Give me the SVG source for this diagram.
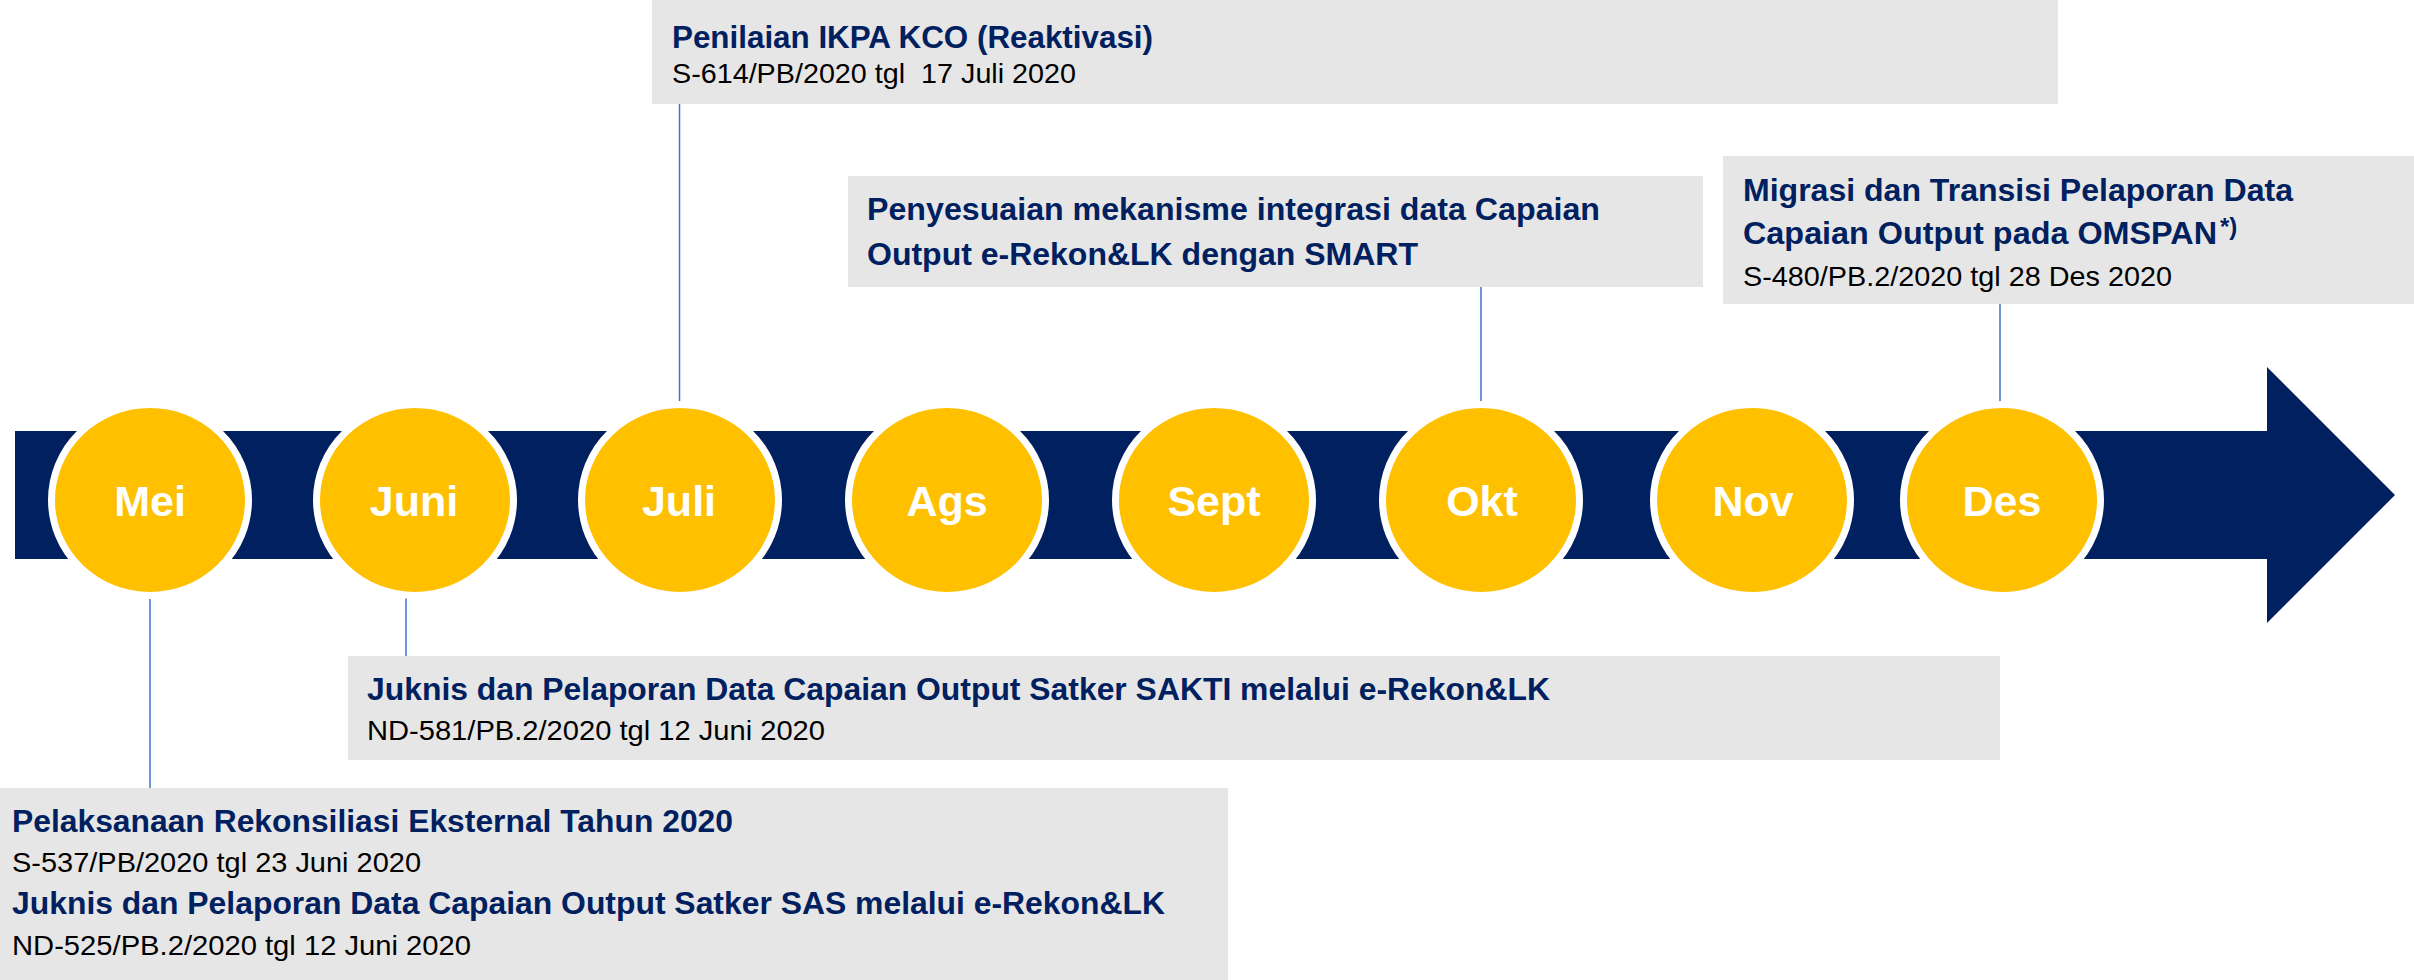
<svg xmlns="http://www.w3.org/2000/svg" width="2414" height="980" viewBox="0 0 2414 980">
<style>
.box{fill:#E7E6E6}
.t{font-family:"Liberation Sans",Arial,sans-serif;font-weight:bold;font-size:32px;fill:#002060}
.s{font-family:"Liberation Sans",Arial,sans-serif;font-size:28px;fill:#000000;white-space:pre}
.m{font-family:"Liberation Sans",Arial,sans-serif;font-weight:bold;font-size:43px;fill:#FFFFFF;text-anchor:middle}
.c{fill:#FFC000;stroke:#FFFFFF;stroke-width:7}
.ln{stroke:#4472C4;stroke-width:1.5;fill:none}
</style>
<rect width="2414" height="980" fill="#FFFFFF"/>
<g id="timeline-arrow">
<polygon points="15,431 2267,431 2267,367 2395,495 2267,623 2267,559 15,559" fill="#002060"/>
</g>
<g id="connectors">
<line class="ln" x1="150" y1="596" x2="150" y2="788"/>
<line class="ln" x1="406" y1="596" x2="406" y2="656"/>
<line class="ln" x1="679.5" y1="104" x2="679.5" y2="403"/>
<line class="ln" x1="1481" y1="287" x2="1481" y2="403"/>
<line class="ln" x1="2000" y1="304" x2="2000" y2="403"/>
</g>
<g id="month-mei"><ellipse class="c" cx="150" cy="500" rx="98.5" ry="95.5"/><text class="m" x="150" y="516">Mei</text></g>
<g id="month-juni"><ellipse class="c" cx="415" cy="500" rx="98.5" ry="95.5"/><text class="m" x="414" y="516">Juni</text></g>
<g id="month-juli"><ellipse class="c" cx="680" cy="500" rx="98.5" ry="95.5"/><text class="m" x="679" y="516">Juli</text></g>
<g id="month-ags"><ellipse class="c" cx="947" cy="500" rx="98.5" ry="95.5"/><text class="m" x="947" y="516">Ags</text></g>
<g id="month-sept"><ellipse class="c" cx="1214" cy="500" rx="98.5" ry="95.5"/><text class="m" x="1214" y="516">Sept</text></g>
<g id="month-okt"><ellipse class="c" cx="1481" cy="500" rx="98.5" ry="95.5"/><text class="m" x="1482" y="516">Okt</text></g>
<g id="month-nov"><ellipse class="c" cx="1752" cy="500" rx="98.5" ry="95.5"/><text class="m" x="1753" y="516">Nov</text></g>
<g id="month-des"><ellipse class="c" cx="2002" cy="500" rx="98.5" ry="95.5"/><text class="m" x="2002" y="516">Des</text></g>
<g id="box-ikpa">
<rect class="box" x="652" y="0" width="1406" height="104"/>
<text class="t" x="672" y="48" textLength="481" lengthAdjust="spacingAndGlyphs">Penilaian IKPA KCO (Reaktivasi)</text>
<text class="s" x="672" y="83" textLength="404" lengthAdjust="spacingAndGlyphs">S-614/PB/2020 tgl  17 Juli 2020</text>
</g>
<g id="box-smart">
<rect class="box" x="848" y="176" width="855" height="111"/>
<text class="t" x="867" y="220" textLength="733" lengthAdjust="spacingAndGlyphs">Penyesuaian mekanisme integrasi data Capaian</text>
<text class="t" x="867" y="265" textLength="551" lengthAdjust="spacingAndGlyphs">Output e-Rekon&amp;LK dengan SMART</text>
</g>
<g id="box-omspan">
<rect class="box" x="1723" y="156" width="691" height="148"/>
<text class="t" x="1743" y="201" textLength="550" lengthAdjust="spacingAndGlyphs">Migrasi dan Transisi Pelaporan Data</text>
<text class="t" x="1743" y="244"><tspan textLength="474" lengthAdjust="spacingAndGlyphs">Capaian Output pada OMSPAN</tspan><tspan x="2220" y="235" font-size="24">*)</tspan></text>
<text class="s" x="1743" y="286" textLength="429" lengthAdjust="spacingAndGlyphs">S-480/PB.2/2020 tgl 28 Des 2020</text>
</g>
<g id="box-sakti">
<rect class="box" x="348" y="656" width="1652" height="104"/>
<text class="t" x="367" y="700" textLength="1183" lengthAdjust="spacingAndGlyphs">Juknis dan Pelaporan Data Capaian Output Satker SAKTI melalui e-Rekon&amp;LK</text>
<text class="s" x="367" y="740" textLength="458" lengthAdjust="spacingAndGlyphs">ND-581/PB.2/2020 tgl 12 Juni 2020</text>
</g>
<g id="box-sas">
<rect class="box" x="0" y="788" width="1228" height="192"/>
<text class="t" x="12" y="832" textLength="721" lengthAdjust="spacingAndGlyphs">Pelaksanaan Rekonsiliasi Eksternal Tahun 2020</text>
<text class="s" x="12" y="872" textLength="409" lengthAdjust="spacingAndGlyphs">S-537/PB/2020 tgl 23 Juni 2020</text>
<text class="t" x="12" y="914" textLength="1153" lengthAdjust="spacingAndGlyphs">Juknis dan Pelaporan Data Capaian Output Satker SAS melalui e-Rekon&amp;LK</text>
<text class="s" x="12" y="955" textLength="459" lengthAdjust="spacingAndGlyphs">ND-525/PB.2/2020 tgl 12 Juni 2020</text>
</g>
</svg>
